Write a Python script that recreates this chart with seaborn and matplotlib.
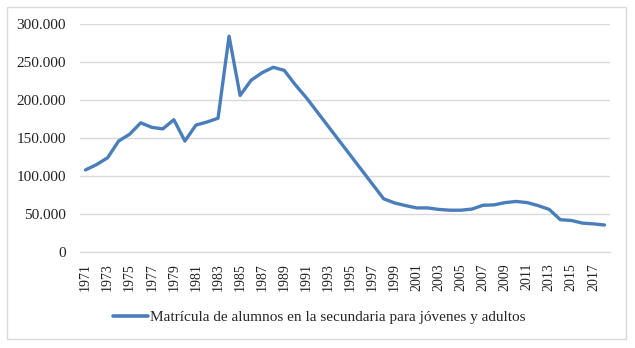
import matplotlib
matplotlib.use("Agg")
import matplotlib.pyplot as plt
import matplotlib.patches as mpatches
import seaborn as sns
import pandas as pd

years = list(range(1971, 2019))
matricula = [108, 115, 124, 146, 155, 170, 164, 162, 174, 146,
             167, 171, 176, 284, 206, 226, 236, 243, 239, 220,
             203, 184, 165, 146, 127, 108, 89, 70, 64.5, 61,
             58, 58, 56, 55, 55, 56.5, 61.5, 62, 65, 66.5,
             65, 61, 56, 42.5, 41.5, 38, 37, 35.5]
matricula = [v * 1000 for v in matricula]
serie = "Matrícula de alumnos en la secundaria para jóvenes y adultos"
yticks = [0, 50000, 100000, 150000, 200000, 250000, 300000]
ytick_labels = ["0", "50.000", "100.000", "150.000", "200.000", "250.000", "300.000"]
xtick_years = list(range(1971, 2019, 2))

df = pd.DataFrame({"Año": years, "Valor": matricula, "Serie": serie})

sns.set_theme(style="white")
plt.rcParams["font.family"] = ["Liberation Serif", "DejaVu Serif"]

fig = plt.figure(figsize=(6.35, 3.48), dpi=100)
ax = fig.add_axes([80/635, 1-252/348, 530/635, 228/348])

sns.lineplot(data=df, x="Año", y="Valor", hue="Serie", palette=["#4a7ebb"],
             linewidth=2.4, ax=ax, legend=True)

ax.set_xlim(1970.5, 2018.5)
ax.set_ylim(0, 300000)
ax.set_yticks(yticks)
ax.set_yticklabels(ytick_labels, fontsize=11, color="#222222")
ax.set_xticks(xtick_years)
ax.set_xticklabels([str(y) for y in xtick_years], rotation=90, fontsize=10, color="#222222")
ax.tick_params(axis="y", length=0, pad=10)
ax.tick_params(axis="x", length=0, pad=8)
ax.set_xlabel("")
ax.set_ylabel("")
ax.grid(axis="y", color="#d9d9d9", linewidth=1)
ax.set_axisbelow(True)
for s in ["top", "right", "left"]:
    ax.spines[s].set_visible(False)
ax.spines["bottom"].set_color("#d9d9d9")
ax.spines["bottom"].set_linewidth(1)

leg = ax.legend(loc="center", bbox_to_anchor=(319/635, 1-317/348),
                bbox_transform=fig.transFigure, frameon=False, fontsize=11,
                handlelength=2.3, handletextpad=0.15)
for line in leg.get_lines():
    line.set_linewidth(2.6)

fig.patches.append(mpatches.Rectangle((7/635, 9/348), 619/635, 332/348,
                                      transform=fig.transFigure, fill=False,
                                      edgecolor="#d9d9d9", linewidth=1))

fig.savefig("out.png", dpi=100, facecolor="white")
